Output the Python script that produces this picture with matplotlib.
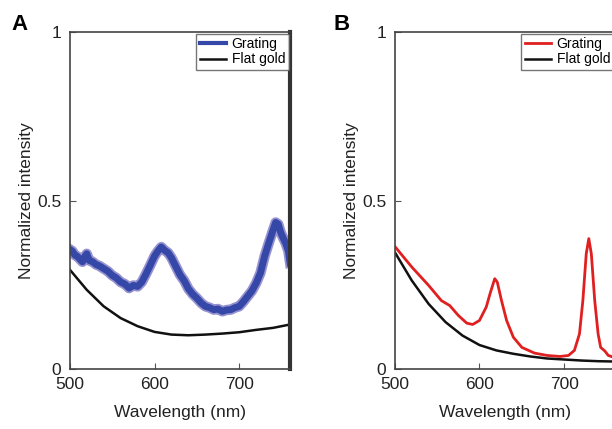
import numpy as np
import matplotlib
matplotlib.use('Agg')
from matplotlib import pyplot as plt

plt.rcParams['font.family'] = ['Liberation Sans', 'DejaVu Sans']

# Panel A data
wl_a_grating = [500, 503, 506, 509, 512, 515, 518, 520, 523, 527, 531, 535, 540, 545,
                550, 555, 560, 565, 570, 575, 580, 585, 590, 595, 600, 604, 608, 612,
                616, 620, 625, 630, 635, 640, 645, 650, 655, 660, 665, 670, 675, 680,
                685, 690, 695, 700, 705, 710, 715, 720, 725, 730, 735, 740, 743, 746,
                749, 752, 755, 758, 760]
a_grating = [0.355, 0.350, 0.338, 0.334, 0.326, 0.318, 0.335, 0.342, 0.322, 0.318,
             0.310, 0.306, 0.298, 0.290, 0.278, 0.270, 0.258, 0.252, 0.240, 0.248,
             0.245, 0.258, 0.282, 0.308, 0.335, 0.350, 0.362, 0.352, 0.345, 0.330,
             0.305, 0.280, 0.262, 0.238, 0.222, 0.210, 0.196, 0.186, 0.182, 0.176,
             0.178, 0.171, 0.175, 0.176, 0.182, 0.186, 0.200, 0.216, 0.232, 0.255,
             0.285, 0.335, 0.375, 0.413, 0.435, 0.430, 0.405, 0.388, 0.372, 0.350,
             0.315]
wl_a_flat = [500, 520, 540, 560, 580, 600, 620, 640, 660, 680, 700, 720, 740, 760]
a_flat = [0.295, 0.235, 0.186, 0.151, 0.127, 0.110, 0.102, 0.100, 0.102, 0.105,
          0.109, 0.116, 0.122, 0.132]

# Panel B data
wl_b_grating = [500, 520, 540, 555, 565, 575, 585, 592, 600, 608, 613, 618, 621, 626,
                632, 640, 650, 665, 680, 695, 705, 712, 718, 722, 726, 729, 732,
                736, 740, 743, 748, 752, 758]
b_grating = [0.364, 0.303, 0.248, 0.203, 0.188, 0.159, 0.136, 0.132, 0.144, 0.184,
             0.228, 0.268, 0.258, 0.203, 0.144, 0.094, 0.064, 0.047, 0.040, 0.037,
             0.040, 0.055, 0.104, 0.203, 0.342, 0.387, 0.342, 0.203, 0.104, 0.064,
             0.053, 0.040, 0.035]
wl_b_flat = [500, 520, 540, 560, 580, 600, 620, 640, 660, 680, 700, 720, 740, 760]
b_flat = [0.347, 0.263, 0.193, 0.139, 0.099, 0.071, 0.055, 0.045, 0.037, 0.031,
          0.028, 0.025, 0.023, 0.022]

xticks = [500, 600, 700]
yticks = [0, 0.5, 1]
ytick_labels = ['0', '0.5', '1']

fig = plt.figure(figsize=(6.12, 4.29), dpi=100)
ax_a = fig.add_axes([0.114, 0.14, 0.36, 0.785])
ax_b = fig.add_axes([0.645, 0.14, 0.36, 0.785])


def style_axes(ax, handles):
    ax.set_xlim(500, 760)
    ax.set_ylim(0, 1)
    ax.set_xticks(xticks)
    ax.set_yticks(yticks)
    ax.set_yticklabels(ytick_labels)
    ax.tick_params(direction='in', length=4, color='#555555', labelsize=12.5,
                   pad=6, labelcolor='#222222')
    for s in ['left', 'bottom', 'top']:
        ax.spines[s].set_color('#444444')
        ax.spines[s].set_linewidth(1.2)
    ax.spines['right'].set_color('#333333')
    ax.spines['right'].set_linewidth(3)
    ax.set_xlabel('Wavelength (nm)', fontsize=12.5, labelpad=9, color='#222222')
    ax.set_ylabel('Normalized intensity', fontsize=12.5, labelpad=2, color='#222222')
    leg = ax.legend(handles=handles, loc='upper right', fontsize=10, frameon=True,
                    fancybox=False, borderpad=0.25, handlelength=1.9,
                    handletextpad=0.4, labelspacing=0.1, borderaxespad=0.1)
    leg.get_frame().set_edgecolor('#555555')
    leg.get_frame().set_linewidth(1.0)


ax_a.plot(wl_a_grating, a_grating, color='#7f78c4', lw=7.5, alpha=0.8)
g_a, = ax_a.plot(wl_a_grating, a_grating, color='#3548a8', lw=5, label='Grating')
f_a, = ax_a.plot(wl_a_flat, a_flat, color='#111111', lw=1.8, label='Flat gold')
style_axes(ax_a, [g_a, f_a])
g_a_leg = ax_a.get_legend().get_lines()[0]
g_a_leg.set_linewidth(3)

g_b, = ax_b.plot(wl_b_grating, b_grating, color='#e02020', lw=2, label='Grating')
f_b, = ax_b.plot(wl_b_flat, b_flat, color='#111111', lw=1.8, label='Flat gold')
style_axes(ax_b, [g_b, f_b])

fig.text(0.018, 0.93, 'A', fontsize=16, fontweight='bold')
fig.text(0.545, 0.93, 'B', fontsize=16, fontweight='bold')

fig.savefig('out.png', dpi=100)
